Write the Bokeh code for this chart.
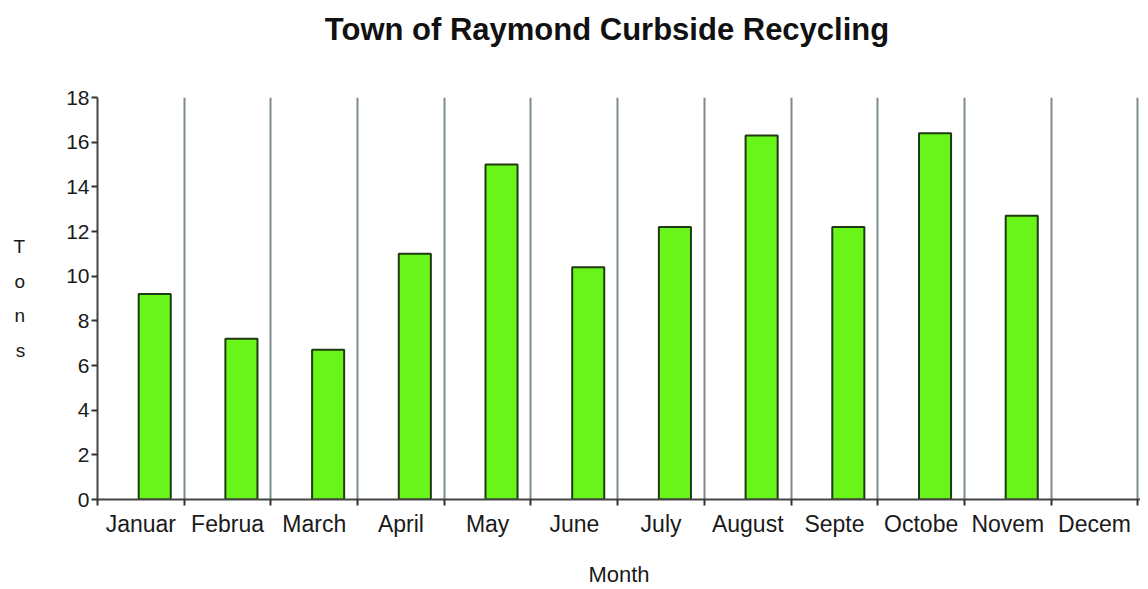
import numpy as np
from bokeh.plotting import figure
from bokeh.models import ColumnDataSource, Range1d, FixedTicker
from bokeh.embed import file_html
from bokeh.resources import INLINE

# ---- data ----
month_labels = ["Januar", "Februa", "March", "April", "May", "June",
                "July", "August", "Septe", "Octobe", "Novem", "Decem"]
tons = [9.2, 7.2, 6.7, 11.0, 15.0, 10.4, 12.2, 16.3, 12.2, 16.4, 12.7, 0.0]
y_ticks = [0, 2, 4, 6, 8, 10, 12, 14, 16, 18]
title_text = "Town of Raymond Curbside Recycling"

FONT = "Liberation Sans"

idx = np.arange(len(month_labels))
bar_offset = 0.66   # bars sit right of the category centre in the original
keep = [i for i, v in enumerate(tons) if v > 0]
src = ColumnDataSource(data=dict(
    x=[idx[i] + bar_offset for i in keep],
    tons=[tons[i] for i in keep],
    month=[month_labels[i] for i in keep],
))

p = figure(width=1140, height=589,
           x_range=Range1d(0, len(month_labels) + 0.03), y_range=Range1d(0, 18),
           output_backend="svg", toolbar_location=None,
           min_border_left=97, min_border_right=0,
           min_border_top=97, min_border_bottom=89)
p.outline_line_color = None
p.background_fill_color = "white"
p.border_fill_color = "white"

# title
p.title.text = title_text
p.title.align = "center"
p.title.vertical_align = "bottom"
p.title.text_font = FONT
p.title.text_font_size = "31px"
p.title.text_font_style = "bold"
p.title.text_color = "#111111"
p.title.standoff = 10
p.title.padding = dict(left=0, right=24, top=0, bottom=46)

# vertical separators between months
p.xgrid.ticker = FixedTicker(ticks=list(range(1, len(month_labels) + 1)))
p.xgrid.grid_line_color = "#7d8b8b"
p.xgrid.grid_line_width = 2
p.ygrid.grid_line_color = None

# bars
p.vbar(x="x", top="tons", width=0.37, source=src,
       fill_color="#6af51a", line_color="#1f3a12", line_width=2)

# x axis
xa = p.xaxis[0]
xa.ticker = FixedTicker(ticks=[i + 0.5 for i in idx],
                        minor_ticks=list(range(0, len(month_labels) + 1)))
xa.major_label_overrides = {float(i + 0.5): m for i, m in zip(idx, month_labels)}
xa.major_tick_out = 0
xa.major_tick_in = 0
xa.minor_tick_out = 6
xa.minor_tick_in = 0
xa.minor_tick_line_color = "#333333"
xa.minor_tick_line_width = 2
xa.axis_line_color = "#444444"
xa.axis_line_width = 2
xa.major_label_text_font = FONT
xa.major_label_text_font_size = "23px"
xa.major_label_text_color = "#1a1a1a"
xa.major_label_standoff = 5
xa.axis_label = "Month"
xa.axis_label_text_font = FONT
xa.axis_label_text_font_size = "22px"
xa.axis_label_text_font_style = "normal"
xa.axis_label_text_color = "#1a1a1a"
xa.axis_label_standoff = 22

# y axis
ya = p.yaxis[0]
ya.ticker = FixedTicker(ticks=y_ticks, minor_ticks=[])
ya.major_tick_out = 6
ya.major_tick_in = 0
ya.major_tick_line_color = "#333333"
ya.major_tick_line_width = 2
ya.axis_line_color = "#444444"
ya.axis_line_width = 2
ya.major_label_text_font = FONT
ya.major_label_text_font_size = "21px"
ya.major_label_text_color = "#1a1a1a"
ya.major_label_standoff = 2
ya.axis_label = "T\no\nn\ns"
ya.axis_label_orientation = "horizontal"
ya.axis_label_text_font = FONT
ya.axis_label_text_font_size = "19px"
ya.axis_label_text_font_style = "normal"
ya.axis_label_text_color = "#1a1a1a"
ya.axis_label_text_line_height = 1.65
ya.axis_label_standoff = 38

open("out.html", "w").write(file_html(p, INLINE))
